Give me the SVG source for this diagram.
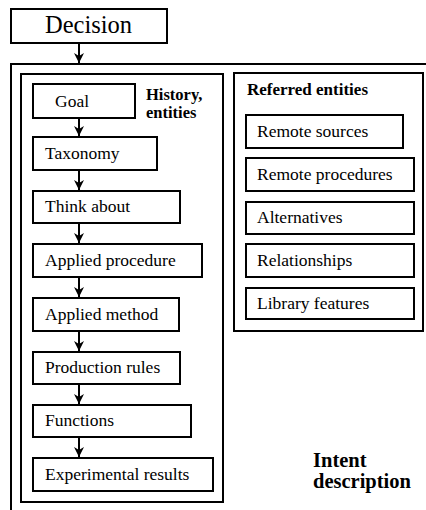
<svg xmlns="http://www.w3.org/2000/svg" width="426" height="510" viewBox="0 0 426 510">
  <style>
    .box { fill: #fff; stroke: #000; stroke-width: 2; }
    .frame { fill: none; stroke: #000; stroke-width: 2; }
    text { font-family: "Liberation Serif", "Tinos", "Times New Roman", "DejaVu Serif", serif; fill: #000; }
    .t { font-size: 17.5px; }
    .b { font-size: 17px; font-weight: bold; }
    .big { font-size: 24.5px; }
    .edge { fill: none; stroke: #000; stroke-width: 2; marker-end: url(#arrow); }
  </style>
  <defs>
    <marker id="arrow" markerWidth="10" markerHeight="12" refX="10" refY="5" orient="auto" markerUnits="userSpaceOnUse">
      <path d="M0,0 L10,5 L0,10 L3,5 Z" fill="#000"/>
    </marker>
  </defs>
  <rect width="426" height="510" fill="#fff"/>

  <!-- top-level decision -->
  <g id="decision">
    <rect class="box" x="11" y="9" width="156" height="34"/>
    <text class="big" x="45" y="33">Decision</text>
  </g>

  <!-- intent description frame, running past the page edge -->
  <g id="intent">
    <path class="frame" d="M11,511 L11,64 L427,64"/>
    <text class="b" x="313" y="467" style="font-size:20.5px">Intent</text>
    <text class="b" x="313" y="488" style="font-size:20.5px">description</text>
  </g>

  <!-- history / entities column -->
  <g id="history">
    <rect class="frame" x="21" y="74" width="202" height="428"/>
    <text class="b" x="146" y="100" style="font-size:16.5px">History,</text>
    <text class="b" x="146" y="118" style="font-size:16.5px">entities</text>
  </g>
  <g id="goal">
    <rect class="box" x="33" y="84" width="102" height="34"/>
    <text class="t" x="55" y="107">Goal</text>
  </g>
  <g id="taxonomy">
    <rect class="box" x="33" y="137" width="124" height="33"/>
    <text class="t" x="45" y="159">Taxonomy</text>
  </g>
  <g id="think-about">
    <rect class="box" x="33" y="191" width="147" height="32"/>
    <text class="t" x="45" y="212">Think about</text>
  </g>
  <g id="applied-procedure">
    <rect class="box" x="33" y="244" width="169" height="33"/>
    <text class="t" x="45" y="266">Applied procedure</text>
  </g>
  <g id="applied-method">
    <rect class="box" x="33" y="298" width="146" height="33"/>
    <text class="t" x="45" y="320">Applied method</text>
  </g>
  <g id="production-rules">
    <rect class="box" x="33" y="352" width="147" height="32"/>
    <text class="t" x="45" y="373">Production rules</text>
  </g>
  <g id="functions">
    <rect class="box" x="33" y="405" width="158" height="32"/>
    <text class="t" x="45" y="426">Functions</text>
  </g>
  <g id="experimental-results">
    <rect class="box" x="33" y="458" width="180" height="33"/>
    <text class="t" x="45" y="480">Experimental results</text>
  </g>

  <!-- referred entities column -->
  <g id="referred">
    <rect class="frame" x="234" y="73" width="189" height="258"/>
    <text class="b" x="247" y="95">Referred entities</text>
  </g>
  <g id="remote-sources">
    <rect class="box" x="246" y="115" width="157" height="33"/>
    <text class="t" x="257" y="137">Remote sources</text>
  </g>
  <g id="remote-procedures">
    <rect class="box" x="246" y="158" width="168" height="33"/>
    <text class="t" x="257" y="180">Remote procedures</text>
  </g>
  <g id="alternatives">
    <rect class="box" x="246" y="202" width="168" height="32"/>
    <text class="t" x="257" y="223">Alternatives</text>
  </g>
  <g id="relationships">
    <rect class="box" x="246" y="244" width="168" height="33"/>
    <text class="t" x="257" y="266">Relationships</text>
  </g>
  <g id="library-features">
    <rect class="box" x="246" y="288" width="168" height="31"/>
    <text class="t" x="257" y="309">Library features</text>
  </g>

  <!-- connectors -->
  <g id="edges">
    <line class="edge" x1="79" y1="43" x2="79" y2="63"/>
    <line class="edge" x1="79" y1="118" x2="79" y2="136"/>
    <line class="edge" x1="79" y1="170" x2="79" y2="190"/>
    <line class="edge" x1="79" y1="223" x2="79" y2="243"/>
    <line class="edge" x1="79" y1="277" x2="79" y2="297"/>
    <line class="edge" x1="79" y1="331" x2="79" y2="351"/>
    <line class="edge" x1="79" y1="384" x2="79" y2="404"/>
    <line class="edge" x1="79" y1="437" x2="79" y2="457"/>
  </g>
</svg>
